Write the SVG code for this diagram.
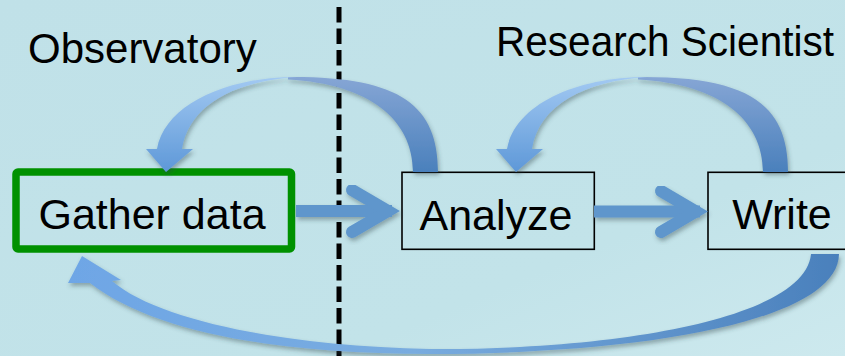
<svg xmlns="http://www.w3.org/2000/svg" width="845" height="356" viewBox="0 0 845 356">
  <defs>
    <linearGradient id="bg" x1="0" y1="0" x2="1" y2="1">
      <stop offset="0" stop-color="#c0e1e8"/>
      <stop offset="0.7" stop-color="#c2e3e9"/>
      <stop offset="1" stop-color="#cde9ee"/>
    </linearGradient>
    <!-- front face of the curved arrows: light near the apex, deeper at the head -->
    <linearGradient id="curveFront" x1="0" y1="0" x2="0" y2="1">
      <stop offset="0" stop-color="#a2c9f2"/>
      <stop offset="1" stop-color="#5e98d8"/>
    </linearGradient>
    <!-- back face of the curved arrows: greyish blue, darker towards the tail -->
    <linearGradient id="curveBack" x1="0" y1="0" x2="0" y2="1">
      <stop offset="0" stop-color="#86a6d5"/>
      <stop offset="1" stop-color="#4a80bc"/>
    </linearGradient>
    <linearGradient id="loopGrad" x1="0" y1="0" x2="1" y2="0">
      <stop offset="0" stop-color="#6ea6e6"/>
      <stop offset="0.45" stop-color="#79acdf"/>
      <stop offset="1" stop-color="#4a80bc"/>
    </linearGradient>
    <filter id="shadow" x="-10%" y="-10%" width="130%" height="140%">
      <feDropShadow dx="1.5" dy="3" stdDeviation="2" flood-color="#33424a" flood-opacity="0.4"/>
    </filter>
    <style>
      .title { font-family: "Liberation Sans", Arial, sans-serif; font-size: 42px; fill: #000; }
      .label { font-family: "Liberation Sans", Arial, sans-serif; font-size: 43px; fill: #000; text-anchor: middle; }
      .box { fill: none; stroke: #000; stroke-width: 1.6; }
      .start { fill: none; stroke: #009100; stroke-width: 7.5; }
      .straight { fill: none; stroke: #5f96cc; stroke-width: 12; }
      .divider { fill: none; stroke: #000; stroke-width: 5; stroke-dasharray: 15.5 6; }
    </style>
  </defs>

  <rect x="0" y="0" width="845" height="356" fill="url(#bg)"/>

  <!-- column headings -->
  <text class="title" x="28" y="63">Observatory</text>
  <text class="title" x="496" y="56" textLength="338" lengthAdjust="spacingAndGlyphs">Research Scientist</text>

  <!-- nodes -->
  <g id="gather">
    <rect class="start" x="16" y="172" width="275.5" height="77" rx="2"/>
    <text class="label" x="152" y="229">Gather data</text>
  </g>
  <g id="analyze">
    <rect class="box" x="402" y="172.3" width="192.3" height="77"/>
    <text class="label" x="496" y="230">Analyze</text>
  </g>
  <g id="write">
    <rect class="box" x="708" y="172.3" width="160" height="77"/>
    <text class="label" x="782" y="229">Write</text>
  </g>

  <!-- divider between the two roles -->
  <line class="divider" x1="339" y1="7" x2="339" y2="356"/>

  <!-- connectors -->
  <g id="connectors">
    <!-- Gather data -> Analyze -->
    <g filter="url(#shadow)">
      <path class="straight" d="M296,211 L392,211" stroke-linecap="butt"/>
      <path class="straight" d="M352,190 L388,211 L352,232" stroke-linecap="round" stroke-linejoin="miter" stroke-miterlimit="10"/>
    </g>
    <!-- Analyze -> Write -->
    <g filter="url(#shadow)">
      <path class="straight" d="M594,211.5 L700,211.5" stroke-linecap="butt"/>
      <path class="straight" d="M661,191 L696,211.5 L661,232" stroke-linecap="round" stroke-linejoin="miter" stroke-miterlimit="10"/>
    </g>

    <!-- Analyze -> Gather data (curved, over the top) -->
    <g id="loop-analyze-gather" filter="url(#shadow)">
      <path fill="url(#curveBack)" d="M288,77 C400,76 438,105 438,172 L413,172 C413,120 370,84 288,79.5 Z"/>
      <path fill="url(#curveFront)" d="M166,172 L146,149 L157,149 C165,105 225,77 297,77 C235,81 189,105 182,149 L193,149 Z"/>
    </g>

    <!-- Write -> Analyze (curved, over the top) -->
    <g id="loop-write-analyze" filter="url(#shadow)" transform="translate(350,0)">
      <path fill="url(#curveBack)" d="M288,77 C400,76 438,105 438,172 L413,172 C413,120 370,84 288,79.5 Z"/>
      <path fill="url(#curveFront)" d="M166,172 L146,149 L157,149 C165,105 225,77 297,77 C235,81 189,105 182,149 L193,149 Z"/>
    </g>

    <!-- Write -> Gather data (long return underneath) -->
    <g id="loop-write-gather" filter="url(#shadow)">
      <path fill="url(#loopGrad)" d="M82,256 L121,280 L112,281 C160,322 290,346 430,349 C620,350 805,318 811,254 L839,254 C838,322 640,354 430,354 C270,354 150,330 90,283 L68,283 Z"/>
    </g>
  </g>
</svg>
